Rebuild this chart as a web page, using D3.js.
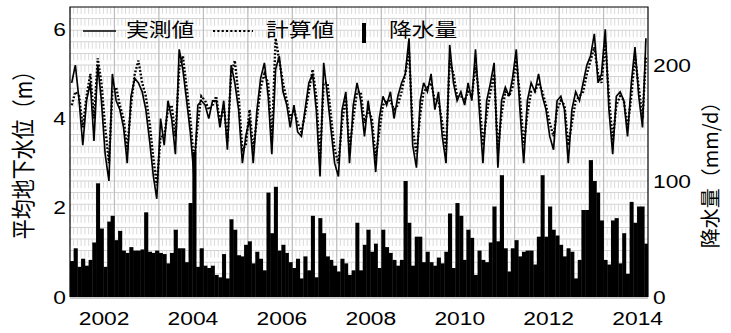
<!DOCTYPE html>
<html>
<head>
<meta charset="utf-8">
<script src="https://cdn.jsdelivr.net/npm/d3@7"></script>
<style>
  body { margin: 0; background: #fff; }
  text { font-family: "Liberation Sans", Arial, sans-serif; fill: #000; }
  .jp { font-family: "Noto Sans CJK JP", "Liberation Sans", sans-serif; }
</style>
</head>
<body>
<div id="chart"></div>
<script>
// monthly data, first month = April 2001
const startMonth = new Date(2001, 3, 1);

// monthly rainfall (mm/d)
const rainfall = [
  31, 42, 26, 33, 27, 32, 47, 98, 59, 26, 65, 70, 49, 57, 40, 38, 43, 40, 40, 41,
  73, 39, 38, 40, 38, 37, 29, 38, 58, 42, 42, 30, 81, 125, 26, 42, 27, 25, 27, 19,
  17, 37, 16, 67, 58, 36, 35, 45, 48,
  29, 39, 33, 23, 90, 55, 95, 40, 45, 38, 30, 25, 33, 16, 35, 23, 70, 17, 68, 55,
  35, 32, 27, 22, 33, 29, 19, 23, 64, 23, 45, 58, 39, 46, 25, 58, 43, 38, 32, 27,
  32, 100, 64, 27, 52, 52, 30, 39, 30, 27, 34, 29, 39, 72, 25, 81, 70, 32, 58, 51,
  19, 40, 32, 30, 47, 78, 48, 105,
  42, 22, 42, 49, 35, 39, 40, 40, 28, 52, 105, 52, 78, 58, 53, 45, 35, 42, 39, 16,
  32, 75, 75, 118, 100, 90, 66, 32, 28, 66, 68, 29, 55, 20, 82, 64, 78, 78, 46
];

// mean groundwater level (m), measured and calculated, one value per month
const measured = [
  4.8, 5.2, 4.4, 3.4, 4.4, 4.8, 3.5, 5.2, 4.4, 3.2, 2.6, 5.0, 4.4, 4.2, 3.8, 3.0, 4.5, 4.9, 4.8, 4.6,
  4.2, 3.5, 2.7, 2.2, 4.0, 3.4, 4.4, 4.0, 3.2, 5.55, 5.1, 4.4, 3.7, 2.7, 4.3, 4.4, 4.3, 4.0, 4.4, 4.4,
  3.8, 4.4, 3.3, 5.2, 4.8, 4.2, 3.0, 3.6, 4.0, 3.0, 4.2, 4.9, 5.25, 4.5, 3.2, 5.1, 5.4, 4.6, 4.3, 3.8,
  4.3, 3.7, 3.6, 4.2, 4.8, 5.0, 4.2, 2.7, 5.25, 4.5, 3.7, 3.0, 2.7, 4.2, 4.6, 3.0, 4.3, 4.8, 4.4, 3.6,
  4.4, 3.8, 2.8, 4.0, 4.5, 4.3, 4.6, 4.0, 4.5, 4.8, 5.0, 5.8, 3.4, 2.9, 4.4, 4.8, 4.6, 5.0, 4.2, 4.6,
  3.6, 3.0, 5.65, 4.8, 4.4, 4.6, 4.3, 4.8, 4.4, 5.55, 4.2, 3.0, 4.4, 4.8, 5.25, 2.9, 4.4, 4.7, 4.5, 4.9,
  5.55, 4.2, 3.0, 4.4, 4.8, 4.6, 5.0, 4.5, 4.2, 3.6, 3.3, 4.4, 4.5, 4.2, 3.0, 4.2, 4.6, 4.4, 4.8, 5.2,
  5.4, 5.9, 4.8, 5.0, 6.0, 4.2, 3.2, 4.5, 4.6, 4.4, 3.6, 4.8, 5.6, 4.5, 3.8, 5.8
];
const calculated = [
  4.3, 4.6, 4.5, 3.8, 4.5, 5.0, 4.0, 5.35, 4.8, 3.8, 3.0, 4.6, 4.7, 4.3, 4.0, 3.3, 4.3, 5.0, 5.3, 4.8,
  4.5, 3.9, 3.1, 2.5, 3.6, 3.6, 4.2, 4.3, 3.6, 5.1, 5.4, 4.7, 4.0, 3.0, 3.9, 4.5, 4.4, 4.2, 4.3, 4.5,
  3.9, 4.3, 3.5, 5.0, 5.3, 4.5, 3.3, 3.4, 4.2, 3.3, 4.0, 4.7, 5.0, 4.8, 3.5, 5.8, 5.3, 4.8, 4.4, 4.0,
  4.2, 3.9, 3.7, 4.1, 4.6, 5.1, 4.5, 3.1, 4.8, 4.8, 4.0, 3.3, 3.0, 3.9, 4.5, 3.3, 4.0, 4.6, 4.6, 3.9,
  4.2, 4.0, 3.1, 3.7, 4.3, 4.4, 4.4, 4.2, 4.3, 4.6, 5.0, 5.5, 3.8, 3.2, 4.1, 4.6, 4.7, 4.8, 4.4, 4.4,
  3.9, 3.3, 5.3, 5.0, 4.5, 4.5, 4.4, 4.6, 4.5, 5.2, 4.5, 3.4, 4.1, 4.6, 5.0, 3.3, 4.1, 4.6, 4.5, 4.7,
  5.3, 4.5, 3.4, 4.1, 4.6, 4.6, 4.8, 4.6, 4.3, 3.9, 3.6, 4.2, 4.4, 4.3, 3.4, 3.9, 4.4, 4.5, 4.6, 5.0,
  5.3, 5.6, 5.0, 4.8, 5.7, 4.5, 3.5, 4.3, 4.5, 4.4, 3.8, 4.5, 5.4, 4.7, 4.0, 5.4
];

const yearTicks = [2002, 2004, 2006, 2008, 2010, 2012, 2014];
const levelTicks = [0, 2, 4, 6];
const rainTicks = [0, 100, 200];
const legendLabels = ['実測値', '計算値', '降水量'];
const leftTitle = '平均地下水位（m）';
const rightTitle = '降水量（mm/d）';

// the original picture is stretched sideways, so draw in a squeezed frame and scale x
const sx = 1.2;
const W = 731, H = 333;
const plot = {left: 70 / sx, right: 648 / sx, top: 7, bottom: 297};

const svg = d3.select('#chart').append('svg')
    .attr('width', W)
    .attr('height', H);
const g = svg.append('g').attr('transform', 'scale(' + sx + ',1)');

const endMonth = d3.timeMonth.offset(startMonth, rainfall.length);
const x = d3.scaleTime().domain([startMonth, endMonth]).range([plot.left, plot.right]);
const yLevel = d3.scaleLinear().domain([0, 6.5]).range([plot.bottom, plot.top]);
const yRain = d3.scaleLinear().domain([0, 250]).range([plot.bottom, plot.top]);

g.append('defs').append('clipPath').attr('id', 'plot-clip')
  .append('rect')
    .attr('x', plot.left).attr('y', plot.top)
    .attr('width', plot.right - plot.left).attr('height', plot.bottom - plot.top);

// grid: horizontal every 10 mm, dashed monthly lines, solid yearly lines
const grid = g.append('g').attr('class', 'grid');
grid.selectAll('.hgrid')
    .data(d3.range(10, 250, 10))
  .enter().append('line')
    .attr('x1', plot.left).attr('x2', plot.right)
    .attr('y1', d => yRain(d)).attr('y2', d => yRain(d))
    .attr('stroke', '#d4d4d4').attr('stroke-width', 1);
grid.selectAll('.mgrid')
    .data(d3.timeMonth.range(startMonth, endMonth))
  .enter().append('line')
    .attr('x1', d => x(d)).attr('x2', d => x(d))
    .attr('y1', plot.top).attr('y2', plot.bottom)
    .attr('stroke', '#d0d0d0').attr('stroke-width', 0.7)
    .attr('stroke-dasharray', '7,4.6');
grid.selectAll('.ygrid')
    .data(d3.range(12, rainfall.length, 12).map(k => d3.timeMonth.offset(startMonth, k)))
  .enter().append('line')
    .attr('x1', d => x(d)).attr('x2', d => x(d))
    .attr('y1', plot.top).attr('y2', plot.bottom)
    .attr('stroke', '#bdbdbd').attr('stroke-width', 1);

// rainfall bars
const plotArea = g.append('g').attr('clip-path', 'url(#plot-clip)');
plotArea.selectAll('.bar')
    .data(rainfall)
  .enter().append('rect')
    .attr('class', 'bar')
    .attr('x', (d, i) => x(d3.timeMonth.offset(startMonth, i)))
    .attr('width', (d, i) => x(d3.timeMonth.offset(startMonth, i + 1)) - x(d3.timeMonth.offset(startMonth, i)) + 0.3)
    .attr('y', d => yRain(d))
    .attr('height', d => plot.bottom - yRain(d))
    .attr('fill', '#000');

// groundwater lines
const midMonth = i => d3.timeDay.offset(d3.timeMonth.offset(startMonth, i), 14);
const line = d3.line()
    .x((d, i) => x(midMonth(i)))
    .y(d => yLevel(d));

plotArea.append('path')
    .datum(calculated)
    .attr('fill', 'none')
    .attr('stroke', '#000')
    .attr('stroke-width', 2)
    .attr('stroke-dasharray', '1.8,1.8')
    .attr('d', line);

plotArea.append('path')
    .datum(measured)
    .attr('fill', 'none')
    .attr('stroke', '#000')
    .attr('stroke-width', 1.4)
    .attr('d', line);

// frame
g.append('line')
    .attr('x1', plot.left).attr('x2', plot.right)
    .attr('y1', plot.bottom + 1).attr('y2', plot.bottom + 1)
    .attr('stroke', '#9a9a9a').attr('stroke-width', 1);
g.append('path')
    .attr('d', 'M' + plot.left + ',' + plot.bottom + 'V' + plot.top + 'H' + plot.right + 'V' + plot.bottom)
    .attr('fill', 'none').attr('stroke', '#000').attr('stroke-width', 1);

// axes
const axisFont = a => a.selectAll('text')
    .attr('font-size', 19)
    .attr('font-family', '"Liberation Sans", Arial, sans-serif');

g.append('g')
    .attr('transform', 'translate(' + (66 / sx) + ',0)')
    .call(d3.axisLeft(yLevel).tickValues(levelTicks).tickFormat(d3.format('d')).tickSize(0).tickPadding(0))
    .call(a => a.select('.domain').remove())
    .call(axisFont);

g.append('g')
    .attr('transform', 'translate(' + (653 / sx) + ',0)')
    .call(d3.axisRight(yRain).tickValues(rainTicks).tickFormat(d3.format('d')).tickSize(0).tickPadding(0))
    .call(a => a.select('.domain').remove())
    .call(axisFont);

g.append('g')
    .attr('transform', 'translate(0,' + 312 + ')')
    .call(d3.axisBottom(x).tickValues(yearTicks.map(yr => new Date(yr, 0, 1)))
      .tickFormat(d3.timeFormat('%Y')).tickSize(0).tickPadding(0))
    .call(a => a.select('.domain').remove())
    .call(axisFont);

// axis titles
g.append('text')
    .attr('class', 'jp')
    .attr('transform', 'translate(' + (24 / sx) + ',' + 150 + ') rotate(-90)')
    .attr('text-anchor', 'middle')
    .attr('dy', '0.35em')
    .attr('font-size', 20)
    .text(leftTitle);

// right title drawn in screen pixels
svg.append('text')
    .attr('class', 'jp')
    .attr('transform', 'translate(711,170) rotate(-90)')
    .attr('text-anchor', 'middle')
    .attr('dy', '0.35em')
    .attr('font-size', 20)
    .text(rightTitle);

// legend
const legend = g.append('g').attr('class', 'legend');
legend.append('line')
    .attr('x1', 83 / sx).attr('x2', 116 / sx).attr('y1', 31).attr('y2', 31)
    .attr('stroke', '#000').attr('stroke-width', 1.6);
legend.append('line')
    .attr('x1', 213 / sx).attr('x2', 253 / sx).attr('y1', 31).attr('y2', 31)
    .attr('stroke', '#000').attr('stroke-width', 2).attr('stroke-dasharray', '1.8,1.8');
legend.append('rect')
    .attr('x', 362 / sx).attr('y', 23).attr('width', 4 / sx).attr('height', 20)
    .attr('fill', '#000');
const legendX = [126, 266, 389];
legend.selectAll('.ltext')
    .data(legendLabels)
  .enter().append('text')
    .attr('class', 'jp')
    .attr('x', (d, i) => legendX[i] / sx)
    .attr('y', 30)
    .attr('dy', '0.35em')
    .attr('font-size', 19)
    .text(d => d);
</script>
</body>
</html>
